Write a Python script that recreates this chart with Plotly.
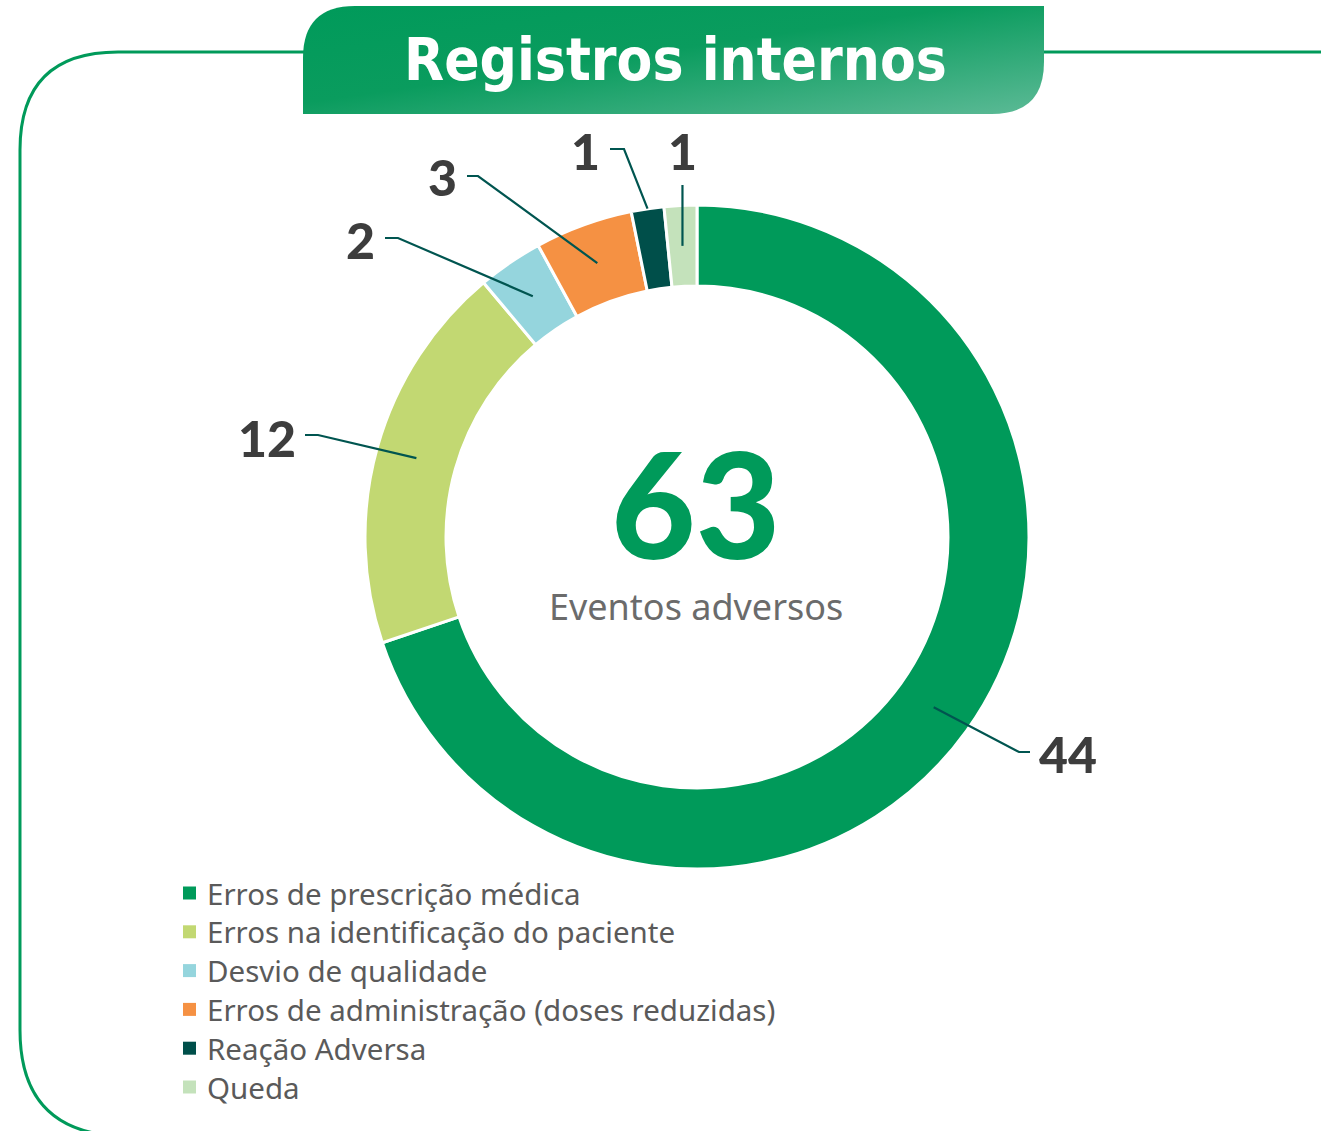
import base64
import math
import plotly.graph_objects as go

W, H = 1321, 1131

# ---- data -------------------------------------------------------------
categories = [
    "Erros de prescrição médica",
    "Erros na identificação do paciente",
    "Desvio de qualidade",
    "Erros de administração (doses reduzidas)",
    "Reação Adversa",
    "Queda",
]
values = [44, 12, 2, 3, 1, 1]
colors = ["#009a5a", "#c2d872", "#95d5dd", "#f59143", "#004f4a", "#c4e2bb"]
total_label = "63"
center_caption = "Eventos adversos"
title_text = "Registros internos"

# ---- geometry (pixels) ------------------------------------------------
CX, CY, R_OUT = 697, 537, 332
HOLE = 0.756
R_MID = R_OUT * (1 + HOLE) / 2

# leader line routing per slice: start radius, elbow, end, label anchor
leader = [
    dict(r=R_MID, elbow=(1019, 752), end=(1030, 752), text=(1037, 754), anchor="left"),
    dict(r=R_MID, elbow=(318, 435), end=(305, 435), text=(298, 438), anchor="right"),
    dict(r=R_MID, elbow=(398, 238), end=(385, 238), text=(377, 240), anchor="right"),
    dict(r=R_MID, elbow=(478, 176), end=(467, 176), text=(459, 177), anchor="right"),
    dict(r=R_OUT, elbow=(624, 149), end=(610, 149), text=(602, 151), anchor="right"),
    dict(r=R_MID, elbow=None, end=(None, 185), text=(682, 151), anchor="center"),
]

GREEN = "#009a5a"
LINE = "#005550"
DARK = "#3d3d3d"


def px(x):
    return x / W


def py(y):
    return 1 - y / H


def to_paper_path(path):
    toks = path.split()
    out = []
    i = 0
    while i < len(toks):
        t = toks[i]
        if t.isalpha():
            out.append(t)
            i += 1
        else:
            out.append(f"{px(float(toks[i])):.5f},{py(float(toks[i + 1])):.5f}")
            i += 2
    return " ".join(out)


fig = go.Figure()

fig.add_trace(go.Pie(
    labels=categories,
    values=values,
    hole=HOLE,
    sort=False,
    direction="clockwise",
    rotation=0,
    marker=dict(colors=colors, line=dict(color="white", width=3)),
    textinfo="none",
    hoverinfo="label+value",
    showlegend=False,
    domain=dict(x=[px(CX - R_OUT), px(CX + R_OUT)],
                y=[py(CY + R_OUT), py(CY - R_OUT)]),
))

shapes = []
annotations = []

# outer frame
frame_path = ("M 1340 52 L 118 52 Q 20 52 20 150 L 20 1030 "
              "Q 20 1131 118 1136")
shapes.append(dict(type="path", xref="paper", yref="paper",
                   path=to_paper_path(frame_path),
                   line=dict(color=GREEN, width=3), layer="below"))

# title banner (gradient drawn as an SVG image)
bx0, by0, bx1, by1 = 303, 6, 1044, 114
bw, bh = bx1 - bx0, by1 - by0
rad = 52
svg = f"""<svg xmlns='http://www.w3.org/2000/svg' width='{bw}' height='{bh}' viewBox='0 0 {bw} {bh}'>
<defs><linearGradient id='g' x1='0' y1='0' x2='1' y2='1' gradientUnits='objectBoundingBox'>
<stop offset='0' stop-color='#009a5a'/><stop offset='0.45' stop-color='#0a9c5e'/>
<stop offset='1' stop-color='#5cba96'/></linearGradient></defs>
<path d='M 0 {bh} L 0 {rad} Q 0 0 {rad} 0 L {bw} 0 L {bw} {bh - rad} Q {bw} {bh} {bw - rad} {bh} Z' fill='url(#g)'/>
</svg>"""
src = "data:image/svg+xml;base64," + base64.b64encode(svg.encode()).decode()
fig.add_layout_image(dict(source=src, xref="paper", yref="paper",
                          x=px(bx0), y=py(by0), sizex=bw / W, sizey=bh / H,
                          xanchor="left", yanchor="top", sizing="stretch",
                          layer="above"))

annotations.append(dict(text=title_text, xref="paper", yref="paper",
                        x=px(675), y=py(60), showarrow=False,
                        xanchor="center", yanchor="middle",
                        font=dict(family="DejaVu Sans Condensed, Roboto", size=58,
                                  color="white", weight=700)))

# leader lines and value labels, placed from each slice's mid angle
cum = 0
tot = sum(values)
for v, lay in zip(values, leader):
    mid = (cum + v / 2) / tot * 2 * math.pi
    cum += v
    sx = CX + lay["r"] * math.sin(mid)
    sy = CY - lay["r"] * math.cos(mid)
    if lay["elbow"] is None:
        path = f"M {sx} {sy} L {sx} {lay['end'][1]}"
    else:
        ex, ey = lay["elbow"]
        tx, ty = lay["end"]
        path = f"M {sx} {sy} L {ex} {ey} L {tx} {ty}"
    shapes.append(dict(type="path", xref="paper", yref="paper",
                       path=to_paper_path(path),
                       line=dict(color=LINE, width=2.2), layer="above"))
    lx, ly = lay["text"]
    annotations.append(dict(text=str(v), xref="paper", yref="paper",
                            x=px(lx), y=py(ly), showarrow=False,
                            xanchor=lay["anchor"], yanchor="middle",
                            font=dict(family="Lato", size=50, color=DARK,
                                      weight=900)))

# centre total
annotations.append(dict(text=total_label, xref="paper", yref="paper",
                        x=px(CX - 2), y=py(502), showarrow=False,
                        xanchor="center", yanchor="middle",
                        font=dict(family="Lato", size=146, color=GREEN,
                                  weight=900)))
annotations.append(dict(text=center_caption, xref="paper", yref="paper",
                        x=px(CX - 1), y=py(606), showarrow=False,
                        xanchor="center", yanchor="middle",
                        font=dict(family="Noto Sans", size=36,
                                  color="#6b6b6b")))

# legend rows
LEG_X, LEG_Y0, LEG_DY = 189.5, 893, 38.8
for i, (lab, col) in enumerate(zip(categories, colors)):
    yy = LEG_Y0 + i * LEG_DY
    shapes.append(dict(type="rect", xref="paper", yref="paper",
                       x0=px(LEG_X - 6.5), x1=px(LEG_X + 6.5),
                       y0=py(yy - 6.5), y1=py(yy + 6.5),
                       fillcolor=col, line=dict(width=0)))
    annotations.append(dict(text=lab, xref="paper", yref="paper",
                            x=px(205), y=py(yy), showarrow=False,
                            xanchor="left", yanchor="middle",
                            font=dict(family="Noto Sans", size=29.5,
                                      color="#5a5a5a")))

fig.update_layout(
    width=W, height=H,
    margin=dict(l=0, r=0, t=0, b=0),
    paper_bgcolor="white", plot_bgcolor="white",
    shapes=shapes, annotations=annotations,
    xaxis=dict(visible=False), yaxis=dict(visible=False),
)

fig.write_html("out.html", config=dict(displayModeBar=False))
